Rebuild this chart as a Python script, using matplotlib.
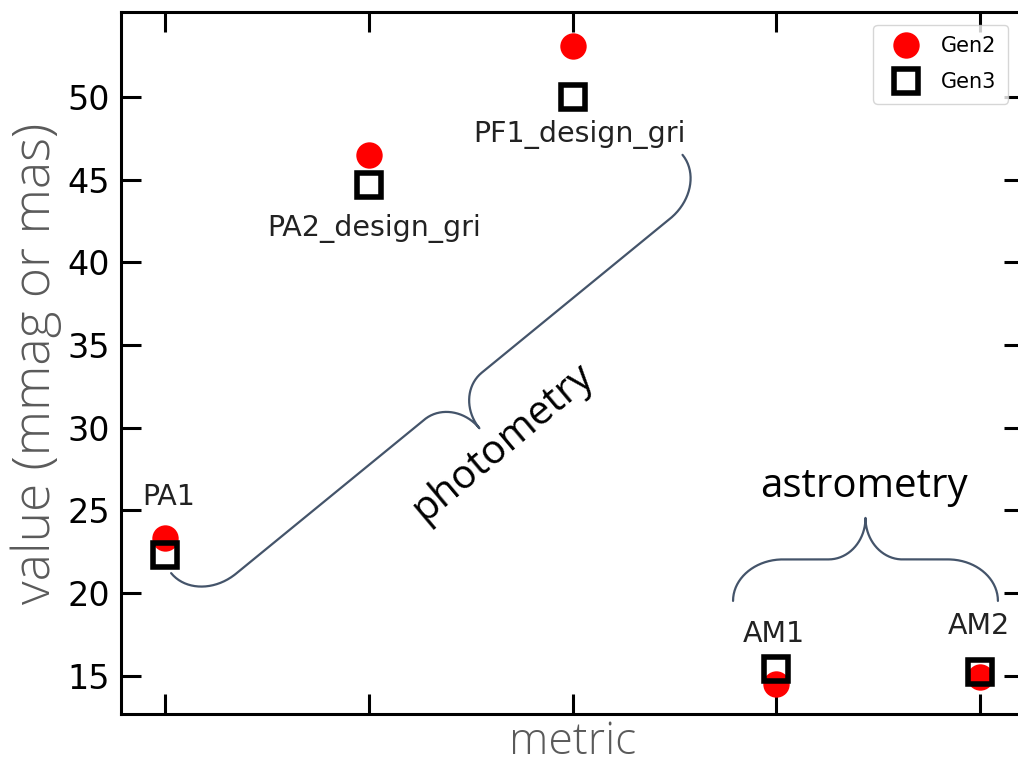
import numpy as np
import matplotlib
matplotlib.use('Agg')
import matplotlib.pyplot as plt

# valores das métricas (mmag ou mas)
metrics = ['PA1', 'PA2_design_gri', 'PF1_design_gri', 'AM1', 'AM2']
gen2 = [23.3, 46.5, 53.1, 14.5, 14.9]
gen3 = [22.3, 44.7, 50.0, 15.4, 15.2]

# deslocamento (pixels) de cada rótulo em relação ao ponto Gen3
label_offsets = [(4, 58), (5, -44), (7, -38), (-2, 35), (-1, 46)]

W, H = 1018, 767
fig = plt.figure(figsize=(W / 100, H / 100), dpi=100)
ax = fig.add_axes([121 / W, 53 / H, (1024 - 121) / W, (714 - 12) / H])

x = np.arange(len(metrics))
ax.plot(x, gen2, 'o', color='#ff0000', ms=19, mew=0, label='Gen2', zorder=3)
ax.plot(x, gen3, 's', mfc='none', mec='black', ms=17.5, mew=4, label='Gen3', zorder=4)

ax.set_xlim(-0.216, len(metrics) - 1 + 0.216)
ax.set_ylim(12.68, 55.14)
ax.set_xticks(x)
ax.set_xticklabels([])
ax.set_yticks(np.arange(15, 55, 5))
ax.tick_params(direction='in', length=14.4, width=2.2, top=True, right=True,
               labelsize=24, pad=8)
for s in ax.spines.values():
    s.set_linewidth(2.2)

ax.set_xlabel('metric', fontsize=32, color='#5a5a5a', family='Open Sans',
              fontweight='light', labelpad=-3)
ax.set_ylabel('value (mmag or mas)', fontsize=37, color='#5a5a5a',
              family='Open Sans', fontweight='light', labelpad=4)

for i, name in enumerate(metrics):
    ax.annotate(name, (x[i], gen3[i]), xytext=label_offsets[i],
                textcoords='offset pixels', ha='center', va='center',
                fontsize=20.5, color='#222222')


def brace(ax, p0, p1, h=83, r1=50, r2=37, **kw):
    # chave desenhada em pixels, ponta à direita do sentido p0 -> p1
    a = ax.transData.transform(p0)
    b = ax.transData.transform(p1)
    d = b - a
    L = np.hypot(*d)
    u = d / L
    v = np.array([u[1], -u[0]])
    k = 0.552
    t = np.linspace(0, 1, 40)[:, None]

    def bez(P0, P1, P2, P3):
        P0, P1, P2, P3 = map(np.array, (P0, P1, P2, P3))
        return (1 - t) ** 3 * P0 + 3 * (1 - t) ** 2 * t * P1 + 3 * (1 - t) * t ** 2 * P2 + t ** 3 * P3

    s1 = bez((0, 0), (0, k * h / 2), (r1 - k * r1, h / 2), (r1, h / 2))
    s2 = np.array([[r1, h / 2], [L / 2 - r2, h / 2]])
    s3 = bez((L / 2 - r2, h / 2), (L / 2 - r2 + k * r2, h / 2),
             (L / 2, h - k * h / 2), (L / 2, h))
    left = np.vstack([s1, s2, s3])
    right = np.column_stack([L - left[:, 0], left[:, 1]])[::-1]
    local = np.vstack([left, right])
    disp = a + local[:, :1] * u + local[:, 1:] * v
    data = ax.transData.inverted().transform(disp)
    ax.plot(data[:, 0], data[:, 1], **kw)


brace_kw = dict(color='#44546a', lw=1.6, solid_capstyle='round', zorder=2)
brace(ax, (0.03, 21.2), (2.54, 46.5), **brace_kw)
brace(ax, (4.088, 19.52), (2.788, 19.52), **brace_kw)

ax.text(1.66, 29.1, 'photometry', rotation=40, rotation_mode='anchor',
        fontsize=29, family='Open Sans', ha='center', va='center')
ax.text(3.43, 26.4, 'astrometry', fontsize=29, family='Open Sans',
        ha='center', va='center')

ax.legend(loc='upper right', bbox_to_anchor=(1008 / W, 742 / H),
          bbox_transform=fig.transFigure, borderaxespad=0, fontsize=15,
          labelspacing=0.75, borderpad=0.55, handletextpad=0.7)

fig.savefig('out.png', dpi=100)
